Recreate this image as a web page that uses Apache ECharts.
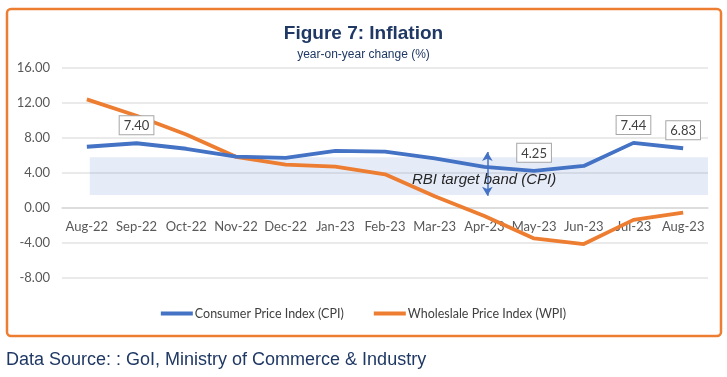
<!DOCTYPE html>
<html>
<head>
<meta charset="utf-8">
<script src="https://cdn.jsdelivr.net/npm/echarts@6/dist/echarts.min.js"></script>
<style>
  html, body { margin: 0; padding: 0; background: #fff; }
  #chart { width: 727px; height: 377px; }
</style>
</head>
<body>
<div id="chart"></div>
<script>
// months on the x axis
var months = ['Aug-22', 'Sep-22', 'Oct-22', 'Nov-22', 'Dec-22', 'Jan-23', 'Feb-23',
              'Mar-23', 'Apr-23', 'May-23', 'Jun-23', 'Jul-23', 'Aug-23'];
// CPI inflation, yoy %
var cpi = [7.00, 7.40, 6.77, 5.88, 5.72, 6.52, 6.44, 5.66, 4.70, 4.25, 4.81, 7.44, 6.83];
// WPI inflation, yoy %
var wpi = [12.41, 10.55, 8.39, 5.85, 4.95, 4.73, 3.85, 1.34, -0.92, -3.48, -4.12, -1.36, -0.52];
// months whose CPI value gets a callout
var cpiCallouts = ['Sep-22', 'May-23', 'Jul-23', 'Aug-23'];
// RBI target band (as drawn)
var bandTop = 5.8, bandBottom = 1.5;

var blue = '#4472C4', orange = '#ED7D31', navy = '#1F3864';

var yMin = -8, yMax = 16;
var gridTop = 68, gridBottom = 99, chartH = 377;

var cpiData = cpi.map(function (v, i) {
  var on = cpiCallouts.indexOf(months[i]) >= 0;
  return {
    value: v,
    label: {
      show: on,
      position: 'top',
      distance: 9,
      formatter: function (p) { return p.value.toFixed(2); },
      backgroundColor: '#fff',
      borderColor: '#a6a6a6',
      borderWidth: 1,
      padding: [3, 4, 2, 4],
      color: '#404040',
      fontSize: 13,
      fontFamily: 'Lato'
    }
  };
});

// category axis should sit on the zero line
var plotH = chartH - gridTop - gridBottom;
var zeroOffset = -plotH * (0 - yMin) / (yMax - yMin);

var chart = echarts.init(document.getElementById('chart'));
chart.setOption({
  animation: false,
  title: {
    text: 'Figure 7: Inflation',
    subtext: 'year-on-year change (%)',
    left: 'center',
    top: 19,
    itemGap: 6,
    textStyle: { color: navy, fontSize: 19, fontWeight: 'bold', fontFamily: 'Liberation Sans Narrow, Liberation Sans' },
    subtextStyle: { color: navy, fontSize: 12, fontFamily: 'Liberation Sans Narrow, Liberation Sans' }
  },
  grid: { left: 62, right: 19, top: gridTop, bottom: gridBottom },
  legend: {
    bottom: 52,
    left: 'center',
    itemGap: 30,
    itemWidth: 32,
    itemHeight: 4,
    icon: 'rect',
    textStyle: { color: '#404040', fontSize: 12.5, fontFamily: 'Lato', padding: [0, 0, 0, -3] },
    data: ['Consumer Price Index (CPI)', 'Wholeslale Price Index (WPI)']
  },
  xAxis: [{
    type: 'category',
    data: months,
    offset: zeroOffset,
    z: 1,
    axisTick: { show: false },
    axisLine: { onZero: false, lineStyle: { color: '#d9d9d9', width: 1.5 } },
    axisLabel: { color: '#595959', fontSize: 13, fontFamily: 'Lato', margin: 12, interval: 0 }
  }, {
    type: 'value',
    min: -0.5,
    max: 12.5,
    show: false
  }],
  yAxis: {
    type: 'value',
    min: yMin,
    max: yMax,
    interval: 4,
    axisLine: { show: false },
    axisTick: { show: false },
    axisLabel: { color: '#595959', fontSize: 13, fontFamily: 'Lato', margin: 12,
      formatter: function (v) { return v.toFixed(2); } },
    splitLine: { lineStyle: { color: '#e3e3e3', width: 1.5 } }
  },
  series: [{
    name: 'band',
    type: 'line',
    xAxisIndex: 1,
    data: [],
    z: 1,
    silent: true,
    markArea: {
      silent: true,
      itemStyle: { color: 'rgba(68,114,196,0.14)' },
      data: [[{ coord: [0.06, bandTop] }, { coord: [12.5, bandBottom] }]]
    },
    markLine: {
      silent: true,
      symbol: ['arrow', 'arrow'],
      symbolSize: [8, 9],
      label: { show: false },
      lineStyle: { color: blue, type: 'solid', width: 1.5 },
      data: [[{ coord: [8.06, 6.4] }, { coord: [8.06, 1.4] }]]
    }
  }, {
    name: 'Consumer Price Index (CPI)',
    type: 'line',
    data: cpiData,
    symbol: 'circle',
    symbolSize: 0,
    showSymbol: true,
    z: 4,
    lineStyle: { color: blue, width: 3.8 },
    itemStyle: { color: blue }
  }, {
    name: 'Wholeslale Price Index (WPI)',
    type: 'line',
    data: wpi,
    symbol: 'none',
    z: 3,
    lineStyle: { color: orange, width: 3.8 },
    itemStyle: { color: orange }
  }],
  graphic: [{
    type: 'rect',
    shape: { x: 7, y: 9, width: 714, height: 327, r: 4 },
    style: { fill: 'none', stroke: orange, lineWidth: 2.5 },
    silent: true
  }, {
    type: 'text',
    left: 412,
    top: 172,
    style: { text: 'RBI target band (CPI)', fill: '#262626', font: 'italic 15px "Liberation Sans"' },
    z: 10
  }, {
    type: 'text',
    left: 6,
    top: 351,
    style: { text: 'Data Source: : GoI, Ministry of Commerce & Industry', fill: navy, font: '18px "Liberation Sans"' }
  }]
});
</script>
</body>
</html>
